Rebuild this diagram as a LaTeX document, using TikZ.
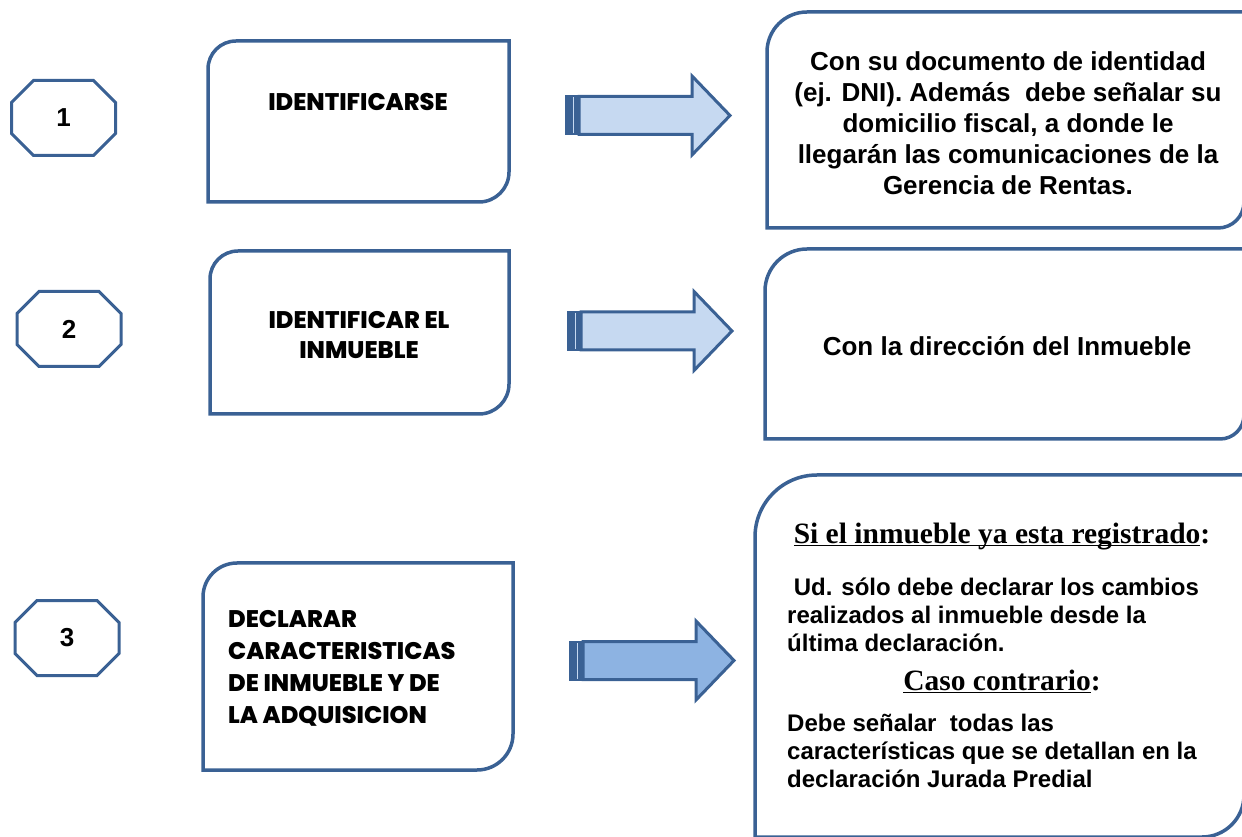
\documentclass[tikz,border=0pt]{standalone}
\usepackage{fontspec}
\setmainfont{Liberation Sans}
\newfontfamily\stepfont[BoldFont={Poppins ExtraBold}]{Poppins}
\newfontfamily\casefont{Liberation Serif}
\definecolor{rimblue}{HTML}{3A6194}
\definecolor{paleblue}{HTML}{C6D9F1}
\definecolor{midblue}{HTML}{8DB3E2}
\newcommand{\diagbox}[6]{\draw[boxline] (#1,#2) -- (#1,#4-#5) arc[start angle=180,end angle=90,radius=#5] -- (#3,#4) -- (#3,#2+#6) arc[start angle=0,end angle=-90,radius=#6] -- cycle;}
\newcommand{\octbox}[4]{\node[numtext] (#1) at (#2,#3) {#4};
	\draw[octline,shift={(#2,#3)}] (-52,15.5) -- (-30,37.5) -- (30,37.5) -- (52,15.5) -- (52,-15.5) -- (30,-37.5) -- (-30,-37.5) -- (-52,-15.5) -- cycle;}
\newcommand{\bandarrow}[3]{\fill[rimblue] (#1,#2-20) rectangle (#1+14,#2+20);
	\draw[paleblue,line width=1] (#1+8,#2-18) -- (#1+8,#2+18);
	\draw[arrowline,fill=#3] (#1+14,#2-19) -- (#1+127,#2-19) -- (#1+127,#2-39.5) -- (#1+165,#2) -- (#1+127,#2+39.5) -- (#1+127,#2+19) -- (#1+14,#2+19) -- cycle;}
\newcommand{\ulhead}[1]{\underline{\smash{#1}}}
\begin{document}
\begin{tikzpicture}[x=1pt,y=1pt]
						\tikzstyle{boxline}=[draw=rimblue,line width=3.5,fill=white]
						\tikzstyle{arrowline}=[draw=rimblue,line width=3,line join=miter]
						\tikzstyle{octline}=[draw=rimblue,line width=3]
						\tikzstyle{numtext}=[inner sep=0,font=\fontsize{26}{28}\selectfont\bfseries]
						\tikzstyle{steptext}=[inner sep=0,align=center,font=\stepfont\fontsize{24}{30}\selectfont\bfseries]
						\tikzstyle{infotext}=[inner sep=0,align=center,font=\fontsize{26}{31}\selectfont\bfseries]
						\tikzstyle{notetext}=[inner sep=0,align=left,anchor=west,font=\fontsize{24}{28}\selectfont\bfseries]
						\tikzstyle{casetext}=[inner sep=0,font=\casefont\fontsize{29.5}{32}\selectfont\bfseries]
						\useasboundingbox (0,0) rectangle (1242,836);
						\clip (0,0) rectangle (1242,836);
						\diagbox{208}{634}{509}{795}{28}{30}
						\diagbox{210}{422}{509}{585}{28}{30}
						\diagbox{203}{66}{513}{273}{34}{36}
						\diagbox{767}{608}{1244}{824}{40}{26}
						\diagbox{765}{397}{1244}{587}{42}{24}
						\diagbox{755}{-1}{1244}{361}{62}{42}
						\octbox{o1}{63.5}{718}{1}
						\octbox{o2}{69}{507}{2}
						\octbox{o3}{67}{198}{3}
						\node[steptext] (s1) at (358,734) {IDENTIFICARSE};
						\node[steptext] (s2) at (359,501) {IDENTIFICAR EL\\INMUEBLE};
						\node[steptext,align=left,anchor=west,font=\stepfont\fontsize{24}{32}\selectfont\bfseries] (s3) at (228,168) {DECLARAR\\CARACTERISTICAS\\DE INMUEBLE Y DE\\LA ADQUISICION};
						\bandarrow{565}{720.5}{paleblue}
						\bandarrow{567}{505}{paleblue}
						\bandarrow{569}{175.5}{midblue}
						\node[infotext] (r1) at (1008,712.5) {Con su documento de identidad\\(ej. DNI). Además\ \ debe señalar su\\domicilio fiscal, a donde le\\llegarán las comunicaciones de la\\Gerencia de Rentas.};
						\node[infotext] (r2) at (1007,490) {Con la dirección del Inmueble};
						\node[casetext] (c1) at (1002,298) {\ulhead{Si el inmueble ya esta registrado}:};
						\node[notetext] (n1) at (787,221) {\ Ud. sólo debe declarar los cambios\\realizados al inmueble desde la\\última declaración.};
						\node[casetext] (c2) at (1002,151) {\ulhead{Caso contrario}:};
						\node[notetext] (n2) at (787,85.5) {Debe señalar\ \ todas las\\características que se detallan en la\\declaración Jurada Predial};
						\end{tikzpicture}
\end{document}
